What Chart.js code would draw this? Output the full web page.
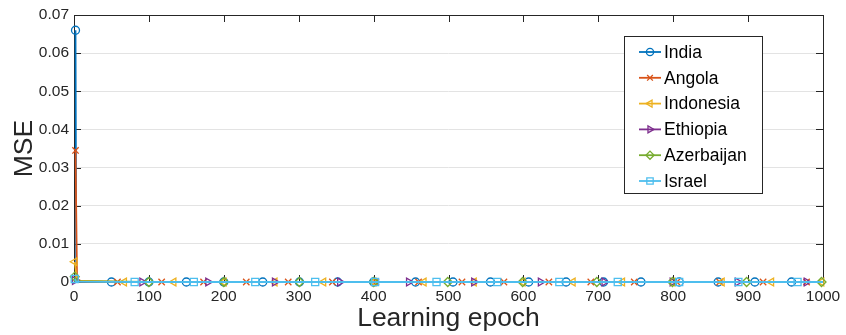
<!DOCTYPE html>
<html><head><meta charset="utf-8">
<script src="https://cdn.jsdelivr.net/npm/chart.js@4/dist/chart.umd.min.js"></script>
<style>html,body{margin:0;padding:0;background:#fff}#wrap{width:846px;height:335px;position:relative}</style>
</head><body><div id="wrap"><canvas id="c" width="846" height="335"></canvas></div>
<script>
// ---- data ----
const seriesNames = ['India', 'Angola', 'Indonesia', 'Ethiopia', 'Azerbaijan', 'Israel'];
const xTickValues = [0, 100, 200, 300, 400, 500, 600, 700, 800, 900, 1000];
const yTickLabels = ['0', '0.01', '0.02', '0.03', '0.04', '0.05', '0.06', '0.07'];

const indiaEpochs = [2, 3, 8, 50, 100, 150, 200, 252, 301, 352, 400, 456, 506, 556, 607, 657, 707, 757, 808, 860, 909, 958, 1000];
const indiaMSE    = [0.066, 0.0004, 0.0001, 0, 0, 0, 0, 0, 0, 0, 0, 0, 0, 0, 0, 0, 0, 0, 0, 0, 0, 0, 0];
const indiaNoMarker = [3, 8, 1000];

const angolaEpochs = [2, 4, 10, 58, 117, 173, 230, 286, 345, 403, 460, 518, 574, 634, 690, 748, 805, 862, 920, 978, 1000];
const angolaMSE    = [0.0345, 0.0008, 0.0002, 0, 0, 0, 0, 0, 0, 0, 0, 0, 0, 0, 0, 0, 0, 0, 0, 0, 0];
const angolaNoMarker = [4, 10, 1000];

const indonesiaEpochs = [1, 4, 67, 133, 200, 268, 333, 400, 467, 534, 599, 666, 732, 799, 865, 931, 998, 1000];
const indonesiaMSE    = [0.0053, 0.0003, 0, 0, 0, 0, 0, 0, 0, 0, 0, 0, 0, 0, 0, 0, 0, 0];
const indonesiaNoMarker = [4, 1000];

const ethiopiaEpochs = [1, 3, 91, 179, 268, 355, 447, 534, 623, 708, 799, 886, 978, 1000];
const ethiopiaMSE    = [0.0004, 0.0001, 0, 0, 0, 0, 0, 0, 0, 0, 0, 0, 0, 0];
const ethiopiaNoMarker = [3, 1000];

const azerbaijanEpochs = [1, 3, 100, 200, 301, 400, 499, 599, 698, 799, 898, 998, 1000];
const azerbaijanMSE    = [0.0014, 0.0002, 0, 0, 0, 0, 0, 0, 0, 0, 0, 0, 0];
const azerbaijanNoMarker = [3, 1000];

const israelEpochs = [1, 3, 81, 160, 242, 322, 402, 484, 565, 648, 726, 808, 887, 966, 1000];
const israelMSE    = [0.0008, 0.0001, 0, 0, 0, 0, 0, 0, 0, 0, 0, 0, 0, 0, 0];
const israelNoMarker = [3, 1000];

// ---- styling ----
const colors = ['#0072BD', '#D95319', '#EDB120', '#7E2F8E', '#77AC30', '#4DBEEE'];
const markerStyles = ['circle', 'crossRot', 'triangle', 'triangle', 'rectRot', 'rect'];
const markerRotations = [0, 0, -90, 90, 0, 0];
const markerRadii = [4, 4.5, 4.5, 4.5, 4.5, 5];
const FONT = "'Liberation Sans', Arial, Helvetica, sans-serif";
const AXIS = '#262626';

const epochSets = [indiaEpochs, angolaEpochs, indonesiaEpochs, ethiopiaEpochs, azerbaijanEpochs, israelEpochs];
const mseSets = [indiaMSE, angolaMSE, indonesiaMSE, ethiopiaMSE, azerbaijanMSE, israelMSE];
const noMarkerSets = [indiaNoMarker, angolaNoMarker, indonesiaNoMarker, ethiopiaNoMarker, azerbaijanNoMarker, israelNoMarker];

const datasets = seriesNames.map((name, i) => ({
  label: name,
  data: epochSets[i].map((e, k) => ({ x: e, y: mseSets[i][k] })),
  borderColor: colors[i],
  backgroundColor: 'rgba(0,0,0,0)',
  pointBackgroundColor: 'rgba(0,0,0,0)',
  pointBorderColor: colors[i],
  pointBorderWidth: 1.3,
  borderWidth: 1.8,
  pointStyle: markerStyles[i],
  pointRotation: markerRotations[i],
  pointRadius: ctx => (ctx.raw && noMarkerSets[i].includes(ctx.raw.x)) ? 0 : markerRadii[i],
  tension: 0,
  order: seriesNames.length - i,
  clip: false
}));

const framePlugin = {
  id: 'frame',
  beforeDatasetsDraw(chart) {
    const { ctx, chartArea: a, scales } = chart;
    ctx.save();
    ctx.strokeStyle = AXIS;
    ctx.lineWidth = 1;
    ctx.strokeRect(Math.round(a.left) + 0.5, Math.round(a.top) + 0.5, Math.round(a.right - a.left), Math.round(a.bottom - a.top));
    const tl = 7;
    ctx.beginPath();
    xTickValues.forEach(v => {
      const px = Math.round(scales.x.getPixelForValue(v)) + 0.5;
      ctx.moveTo(px, a.bottom); ctx.lineTo(px, a.bottom - tl);
      ctx.moveTo(px, a.top); ctx.lineTo(px, a.top + tl);
    });
    yTickLabels.forEach(l => {
      const py = Math.round(scales.y.getPixelForValue(parseFloat(l))) + 0.5;
      ctx.moveTo(a.left, py); ctx.lineTo(a.left + tl, py);
      ctx.moveTo(a.right, py); ctx.lineTo(a.right - tl, py);
    });
    ctx.stroke();
    ctx.restore();
  },
  afterDraw(chart) {
    const { ctx } = chart;
    const bx = 624.5, by = 36.5, bw = 138, bh = 157;
    ctx.save();
    ctx.fillStyle = '#ffffff';
    ctx.fillRect(bx, by, bw, bh);
    ctx.strokeStyle = AXIS;
    ctx.lineWidth = 1;
    ctx.strokeRect(bx, by, bw, bh);
    ctx.font = '17.5px ' + FONT;
    ctx.textBaseline = 'middle';
    ctx.textAlign = 'left';
    chart.data.datasets.forEach((ds, i) => {
      const y = 52 + i * 25.8;
      ctx.strokeStyle = ds.borderColor;
      ctx.lineWidth = 1.8;
      ctx.beginPath(); ctx.moveTo(639, y); ctx.lineTo(661, y); ctx.stroke();
      ctx.fillStyle = 'rgba(0,0,0,0)';
      ctx.lineWidth = 1.3;
      Chart.helpers.drawPoint(ctx, { pointStyle: ds.pointStyle, rotation: ds.pointRotation, radius: markerRadii[i] * 0.9, borderWidth: 1.3 }, 650, y);
      ctx.fillStyle = '#000';
      ctx.fillText(ds.label, 664, y + 1);
    });
    ctx.restore();
  }
};

new Chart(document.getElementById('c'), {
  type: 'line',
  data: { datasets },
  options: {
    responsive: false,
    animation: false,
    devicePixelRatio: 1,
    layout: { padding: { top: 15, right: 23, left: 0, bottom: 0 } },
    plugins: { legend: { display: false }, tooltip: { enabled: false } },
    scales: {
      x: {
        type: 'linear', min: 0, max: 1000,
        afterBuildTicks: s => { s.ticks = xTickValues.map(v => ({ value: v })); },
        ticks: { color: AXIS, font: { family: FONT, size: 15.5 }, padding: 5, maxRotation: 0, callback: v => String(v) },
        grid: { display: false, drawTicks: false },
        border: { display: false },
        title: { display: true, text: 'Learning epoch', color: AXIS, font: { family: FONT, size: 26.5 }, padding: { top: 0, bottom: 0 } },
        afterFit: s => { s.height = 53; }
      },
      y: {
        type: 'linear', min: 0, max: 0.07,
        afterBuildTicks: s => { s.ticks = yTickLabels.map(l => ({ value: parseFloat(l) })); },
        ticks: { color: AXIS, font: { family: FONT, size: 15.5 }, padding: 5, callback: (v, idx) => yTickLabels[idx] },
        grid: { color: '#e3e3e3', lineWidth: 1, drawTicks: false },
        border: { display: false },
        title: { display: true, text: 'MSE', color: AXIS, font: { family: FONT, size: 26.5 }, padding: { top: 9, bottom: 0 } },
        afterFit: s => { s.width = 74; }
      }
    }
  },
  plugins: [framePlugin]
});
</script>
</body></html>
